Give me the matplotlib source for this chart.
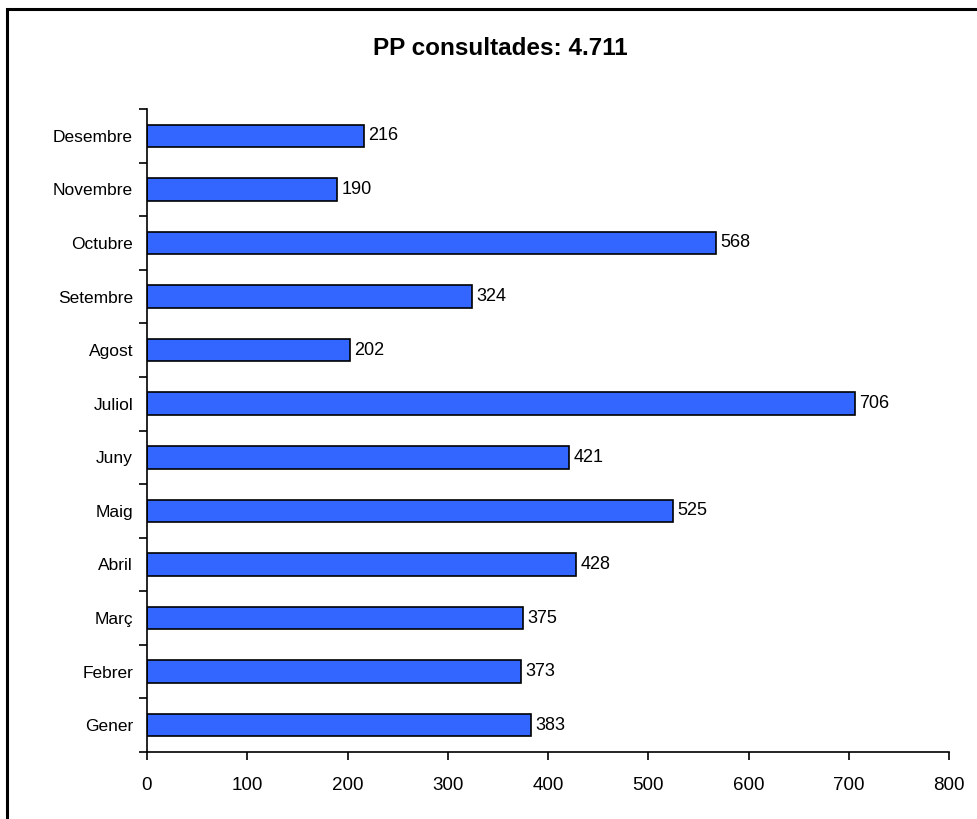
import matplotlib
matplotlib.use("Agg")
import matplotlib.pyplot as plt
from matplotlib.patches import Rectangle
from matplotlib.ticker import FixedLocator

mesos = ["Gener", "Febrer", "Març", "Abril", "Maig", "Juny",
         "Juliol", "Agost", "Setembre", "Octubre", "Novembre", "Desembre"]
consultes = [383, 373, 375, 428, 525, 421, 706, 202, 324, 568, 190, 216]
titol = "PP consultades: 4.711"

plt.rcParams.update({'font.family': ['Liberation Sans', 'DejaVu Sans'], 'font.size': 13})

fig = plt.figure(figsize=(9.77, 8.19), dpi=100)
ax = fig.add_axes([147/977, 67/819, 802/977, 643/819])

pos = list(range(len(mesos)))
ax.barh(pos, consultes, height=0.42, color='#3366FF', edgecolor='black', linewidth=1.2)
for y, v in zip(pos, consultes):
    ax.annotate(str(v), (v, y), xytext=(3, 0), textcoords='offset points',
                va='center', ha='left', fontsize=13)

ax.set_xlim(0, 800)
ax.set_ylim(-0.5, len(mesos) - 0.5)
ax.set_xticks(range(0, 801, 100))
ax.set_yticks(pos)
ax.set_yticklabels(mesos, fontsize=12.5)
ax.yaxis.set_minor_locator(FixedLocator([i - 0.5 for i in range(len(mesos) + 1)]))
ax.tick_params(axis='y', which='major', length=0, pad=10)
ax.tick_params(axis='y', which='minor', length=6, width=1.2, direction='out')
ax.tick_params(axis='x', length=6, width=1.2, direction='out', pad=12, labelsize=13.5)
for s in ['top', 'right']:
    ax.spines[s].set_visible(False)
for s in ['left', 'bottom']:
    ax.spines[s].set_linewidth(1.2)

fig.text(0.512, 0.941, titol, ha='center', va='center', fontsize=17.5, fontweight='bold')

fig.patches.append(Rectangle((7/977, -0.1), 1.2, 810/819 + 0.1, transform=fig.transFigure,
                             fill=False, edgecolor='black', linewidth=2.2))

fig.savefig("out.png", dpi=100)
